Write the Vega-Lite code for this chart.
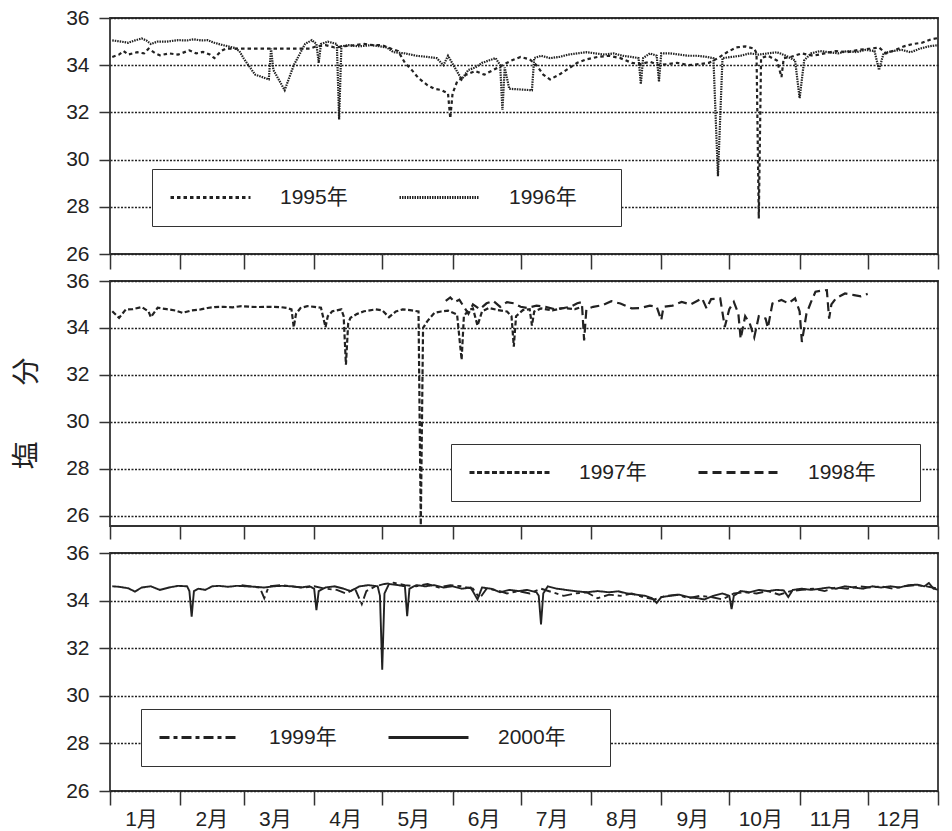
{
"$schema": "https://vega.github.io/schema/vega-lite/v6.json",
"background": "white",
"padding": {"left": 12, "top": 6, "right": 5, "bottom": 5},
"bounds": "flush",
"spacing": 27,
"datasets": {
"p1": [
{"year":"1995年","day":1,"v":34.35},{"year":"1995年","day":4,"v":34.45},{"year":"1995年","day":6,"v":34.6},{"year":"1995年","day":8,"v":34.45},{"year":"1995年","day":12,"v":34.55},{"year":"1995年","day":15,"v":34.5},{"year":"1995年","day":17,"v":34.7},{"year":"1995年","day":20,"v":34.5},{"year":"1995年","day":22,"v":34.42},{"year":"1995年","day":26,"v":34.5},{"year":"1995年","day":30,"v":34.45},{"year":"1995年","day":35,"v":34.63},{"year":"1995年","day":38,"v":34.5},{"year":"1995年","day":41,"v":34.56},{"year":"1995年","day":44,"v":34.45},{"year":"1995年","day":46,"v":34.3},{"year":"1995年","day":49,"v":34.6},{"year":"1995年","day":51,"v":34.7},{"year":"1995年","day":55,"v":34.7},{"year":"1995年","day":88,"v":34.7},{"year":"1995年","day":91,"v":34.8},{"year":"1995年","day":95,"v":34.85},{"year":"1995年","day":99,"v":34.75},{"year":"1995年","day":103,"v":34.8},{"year":"1995年","day":108,"v":34.85},{"year":"1995年","day":112,"v":34.9},{"year":"1995年","day":116,"v":34.85},{"year":"1995年","day":120,"v":34.85},{"year":"1995年","day":124,"v":34.7},{"year":"1995年","day":127,"v":34.6},{"year":"1995年","day":130,"v":34.1},{"year":"1995年","day":133,"v":33.8},{"year":"1995年","day":136,"v":33.45},{"year":"1995年","day":140,"v":33.15},{"year":"1995年","day":143,"v":33.0},{"year":"1995年","day":146,"v":32.95},{"year":"1995年","day":149,"v":32.8},{"year":"1995年","day":150,"v":31.75},{"year":"1995年","day":151,"v":32.8},{"year":"1995年","day":153,"v":33.3},{"year":"1995年","day":157,"v":33.6},{"year":"1995年","day":161,"v":33.75},{"year":"1995年","day":165,"v":33.6},{"year":"1995年","day":169,"v":33.8},{"year":"1995年","day":173,"v":34.0},{"year":"1995年","day":177,"v":34.2},{"year":"1995年","day":181,"v":34.35},{"year":"1995年","day":185,"v":34.25},{"year":"1995年","day":188,"v":34.0},{"year":"1995年","day":191,"v":33.6},{"year":"1995年","day":194,"v":33.4},{"year":"1995年","day":198,"v":33.6},{"year":"1995年","day":202,"v":33.85},{"year":"1995年","day":206,"v":34.1},{"year":"1995年","day":210,"v":34.25},{"year":"1995年","day":215,"v":34.35},{"year":"1995年","day":220,"v":34.4},{"year":"1995年","day":225,"v":34.3},{"year":"1995年","day":230,"v":34.1},{"year":"1995年","day":234,"v":34.05},{"year":"1995年","day":238,"v":34.15},{"year":"1995年","day":242,"v":34.0},{"year":"1995年","day":246,"v":34.05},{"year":"1995年","day":250,"v":34.1},{"year":"1995年","day":255,"v":34.0},{"year":"1995年","day":260,"v":34.05},{"year":"1995年","day":264,"v":34.1},{"year":"1995年","day":268,"v":34.3},{"year":"1995年","day":272,"v":34.55},{"year":"1995年","day":276,"v":34.75},{"year":"1995年","day":280,"v":34.8},{"year":"1995年","day":284,"v":34.7},{"year":"1995年","day":285,"v":34.5},{"year":"1995年","day":286,"v":27.5},{"year":"1995年","day":287,"v":34.3},{"year":"1995年","day":290,"v":34.4},{"year":"1995年","day":294,"v":34.2},{"year":"1995年","day":296,"v":33.5},{"year":"1995年","day":297,"v":34.3},{"year":"1995年","day":300,"v":34.35},{"year":"1995年","day":305,"v":34.5},{"year":"1995年","day":310,"v":34.4},{"year":"1995年","day":315,"v":34.5},{"year":"1995年","day":320,"v":34.6},{"year":"1995年","day":325,"v":34.55},{"year":"1995年","day":330,"v":34.65},{"year":"1995年","day":335,"v":34.7},{"year":"1995年","day":339,"v":34.75},{"year":"1995年","day":342,"v":34.5},{"year":"1995年","day":345,"v":34.6},{"year":"1995年","day":350,"v":34.8},{"year":"1995年","day":354,"v":34.9},{"year":"1995年","day":358,"v":34.95},{"year":"1995年","day":362,"v":35.1},{"year":"1995年","day":365,"v":35.15},
{"year":"1996年","day":1,"v":35.05},{"year":"1996年","day":5,"v":35.0},{"year":"1996年","day":8,"v":34.95},{"year":"1996年","day":11,"v":35.05},{"year":"1996年","day":14,"v":35.13},{"year":"1996年","day":16,"v":35.05},{"year":"1996年","day":18,"v":34.9},{"year":"1996年","day":21,"v":35.0},{"year":"1996年","day":25,"v":35.0},{"year":"1996年","day":30,"v":35.06},{"year":"1996年","day":34,"v":35.05},{"year":"1996年","day":37,"v":35.1},{"year":"1996年","day":40,"v":35.05},{"year":"1996年","day":43,"v":35.06},{"year":"1996年","day":46,"v":34.95},{"year":"1996年","day":49,"v":34.87},{"year":"1996年","day":52,"v":34.8},{"year":"1996年","day":55,"v":34.73},{"year":"1996年","day":57,"v":34.6},{"year":"1996年","day":59,"v":34.28},{"year":"1996年","day":61,"v":34.0},{"year":"1996年","day":64,"v":33.6},{"year":"1996年","day":67,"v":33.5},{"year":"1996年","day":70,"v":33.4},{"year":"1996年","day":71,"v":34.7},{"year":"1996年","day":72,"v":33.8},{"year":"1996年","day":77,"v":32.94},{"year":"1996年","day":81,"v":34.0},{"year":"1996年","day":86,"v":34.9},{"year":"1996年","day":89,"v":35.06},{"year":"1996年","day":91,"v":34.9},{"year":"1996年","day":92,"v":34.1},{"year":"1996年","day":93,"v":34.9},{"year":"1996年","day":96,"v":35.0},{"year":"1996年","day":100,"v":34.9},{"year":"1996年","day":101,"v":31.7},{"year":"1996年","day":102,"v":34.8},{"year":"1996年","day":105,"v":34.85},{"year":"1996年","day":110,"v":34.8},{"year":"1996年","day":115,"v":34.85},{"year":"1996年","day":119,"v":34.8},{"year":"1996年","day":122,"v":34.75},{"year":"1996年","day":125,"v":34.55},{"year":"1996年","day":130,"v":34.5},{"year":"1996年","day":135,"v":34.4},{"year":"1996年","day":140,"v":34.35},{"year":"1996年","day":144,"v":34.3},{"year":"1996年","day":147,"v":34.0},{"year":"1996年","day":149,"v":34.4},{"year":"1996年","day":152,"v":33.9},{"year":"1996年","day":155,"v":33.4},{"year":"1996年","day":158,"v":33.8},{"year":"1996年","day":161,"v":33.9},{"year":"1996年","day":164,"v":34.1},{"year":"1996年","day":167,"v":34.2},{"year":"1996年","day":170,"v":34.3},{"year":"1996年","day":172,"v":34.0},{"year":"1996年","day":173,"v":32.1},{"year":"1996年","day":174,"v":33.9},{"year":"1996年","day":176,"v":33.0},{"year":"1996年","day":186,"v":32.94},{"year":"1996年","day":187,"v":34.3},{"year":"1996年","day":190,"v":34.4},{"year":"1996年","day":194,"v":34.3},{"year":"1996年","day":198,"v":34.35},{"year":"1996年","day":202,"v":34.45},{"year":"1996年","day":206,"v":34.5},{"year":"1996年","day":210,"v":34.55},{"year":"1996年","day":214,"v":34.5},{"year":"1996年","day":218,"v":34.45},{"year":"1996年","day":222,"v":34.5},{"year":"1996年","day":226,"v":34.4},{"year":"1996年","day":230,"v":34.35},{"year":"1996年","day":233,"v":34.3},{"year":"1996年","day":234,"v":33.2},{"year":"1996年","day":235,"v":34.3},{"year":"1996年","day":238,"v":34.5},{"year":"1996年","day":241,"v":34.4},{"year":"1996年","day":242,"v":33.3},{"year":"1996年","day":243,"v":34.5},{"year":"1996年","day":247,"v":34.5},{"year":"1996年","day":251,"v":34.45},{"year":"1996年","day":255,"v":34.4},{"year":"1996年","day":259,"v":34.4},{"year":"1996年","day":263,"v":34.35},{"year":"1996年","day":266,"v":34.3},{"year":"1996年","day":268,"v":29.3},{"year":"1996年","day":270,"v":34.3},{"year":"1996年","day":274,"v":34.35},{"year":"1996年","day":278,"v":34.4},{"year":"1996年","day":282,"v":34.5},{"year":"1996年","day":286,"v":34.45},{"year":"1996年","day":290,"v":34.5},{"year":"1996年","day":294,"v":34.55},{"year":"1996年","day":298,"v":34.4},{"year":"1996年","day":302,"v":34.2},{"year":"1996年","day":304,"v":32.6},{"year":"1996年","day":306,"v":34.2},{"year":"1996年","day":309,"v":34.5},{"year":"1996年","day":313,"v":34.6},{"year":"1996年","day":317,"v":34.55},{"year":"1996年","day":321,"v":34.5},{"year":"1996年","day":325,"v":34.6},{"year":"1996年","day":329,"v":34.55},{"year":"1996年","day":333,"v":34.65},{"year":"1996年","day":337,"v":34.6},{"year":"1996年","day":339,"v":33.8},{"year":"1996年","day":341,"v":34.5},{"year":"1996年","day":345,"v":34.6},{"year":"1996年","day":349,"v":34.65},{"year":"1996年","day":353,"v":34.55},{"year":"1996年","day":357,"v":34.7},{"year":"1996年","day":361,"v":34.8},{"year":"1996年","day":365,"v":34.85}
],
"p2": [
{"year":"1997年","day":1,"v":34.71},{"year":"1997年","day":4,"v":34.43},{"year":"1997年","day":7,"v":34.79},{"year":"1997年","day":10,"v":34.8},{"year":"1997年","day":14,"v":34.89},{"year":"1997年","day":17,"v":34.7},{"year":"1997年","day":18,"v":34.46},{"year":"1997年","day":21,"v":34.86},{"year":"1997年","day":25,"v":34.8},{"year":"1997年","day":29,"v":34.74},{"year":"1997年","day":32,"v":34.64},{"year":"1997年","day":36,"v":34.75},{"year":"1997年","day":40,"v":34.79},{"year":"1997年","day":43,"v":34.85},{"year":"1997年","day":46,"v":34.89},{"year":"1997年","day":50,"v":34.9},{"year":"1997年","day":54,"v":34.88},{"year":"1997年","day":58,"v":34.93},{"year":"1997年","day":62,"v":34.9},{"year":"1997年","day":65,"v":34.89},{"year":"1997年","day":70,"v":34.9},{"year":"1997年","day":75,"v":34.89},{"year":"1997年","day":78,"v":34.85},{"year":"1997年","day":80,"v":34.79},{"year":"1997年","day":81,"v":34.03},{"year":"1997年","day":82,"v":34.6},{"year":"1997年","day":84,"v":34.85},{"year":"1997年","day":87,"v":34.93},{"year":"1997年","day":90,"v":34.9},{"year":"1997年","day":93,"v":34.86},{"year":"1997年","day":95,"v":34.03},{"year":"1997年","day":96,"v":34.5},{"year":"1997年","day":98,"v":34.71},{"year":"1997年","day":102,"v":34.79},{"year":"1997年","day":103,"v":34.5},{"year":"1997年","day":104,"v":32.43},{"year":"1997年","day":105,"v":34.2},{"year":"1997年","day":106,"v":34.43},{"year":"1997年","day":109,"v":34.6},{"year":"1997年","day":112,"v":34.71},{"year":"1997年","day":117,"v":34.79},{"year":"1997年","day":120,"v":34.75},{"year":"1997年","day":123,"v":34.46},{"year":"1997年","day":126,"v":34.7},{"year":"1997年","day":129,"v":34.79},{"year":"1997年","day":133,"v":34.75},{"year":"1997年","day":136,"v":34.7},{"year":"1997年","day":137,"v":25.6},{"year":"1997年","day":138,"v":34.0},{"year":"1997年","day":140,"v":34.3},{"year":"1997年","day":143,"v":34.64},{"year":"1997年","day":146,"v":34.7},{"year":"1997年","day":149,"v":34.74},{"year":"1997年","day":153,"v":34.57},{"year":"1997年","day":155,"v":32.64},{"year":"1997年","day":156,"v":34.5},{"year":"1997年","day":158,"v":34.75},{"year":"1997年","day":160,"v":34.83},{"year":"1997年","day":162,"v":34.1},{"year":"1997年","day":164,"v":34.7},{"year":"1997年","day":167,"v":34.85},{"year":"1997年","day":171,"v":34.76},{"year":"1997年","day":175,"v":34.7},{"year":"1997年","day":177,"v":34.5},{"year":"1997年","day":178,"v":33.2},{"year":"1997年","day":179,"v":34.5},{"year":"1997年","day":182,"v":34.76},{"year":"1997年","day":185,"v":34.8},{"year":"1997年","day":186,"v":34.1},{"year":"1997年","day":187,"v":34.7},{"year":"1997年","day":190,"v":34.83},{"year":"1997年","day":195,"v":34.75},{"year":"1997年","day":200,"v":34.85},{"year":"1997年","day":205,"v":34.8},{"year":"1997年","day":208,"v":34.9},
{"year":"1998年","day":148,"v":35.15},{"year":"1998年","day":150,"v":35.3},{"year":"1998年","day":152,"v":35.1},{"year":"1998年","day":154,"v":35.2},{"year":"1998年","day":156,"v":34.9},{"year":"1998年","day":158,"v":34.6},{"year":"1998年","day":160,"v":35.0},{"year":"1998年","day":163,"v":34.8},{"year":"1998年","day":166,"v":35.05},{"year":"1998年","day":169,"v":35.15},{"year":"1998年","day":172,"v":34.9},{"year":"1998年","day":175,"v":35.1},{"year":"1998年","day":178,"v":35.05},{"year":"1998年","day":181,"v":34.9},{"year":"1998年","day":184,"v":34.85},{"year":"1998年","day":188,"v":34.95},{"year":"1998年","day":192,"v":34.9},{"year":"1998年","day":196,"v":34.8},{"year":"1998年","day":200,"v":34.85},{"year":"1998年","day":203,"v":34.9},{"year":"1998年","day":206,"v":35.05},{"year":"1998年","day":208,"v":35.1},{"year":"1998年","day":209,"v":33.47},{"year":"1998年","day":210,"v":34.8},{"year":"1998年","day":213,"v":34.9},{"year":"1998年","day":217,"v":34.97},{"year":"1998年","day":221,"v":35.14},{"year":"1998年","day":225,"v":35.04},{"year":"1998年","day":230,"v":34.83},{"year":"1998年","day":234,"v":34.85},{"year":"1998年","day":238,"v":34.95},{"year":"1998年","day":241,"v":34.9},{"year":"1998年","day":243,"v":34.33},{"year":"1998年","day":244,"v":34.9},{"year":"1998年","day":248,"v":34.95},{"year":"1998年","day":252,"v":35.11},{"year":"1998年","day":256,"v":35.0},{"year":"1998年","day":261,"v":35.26},{"year":"1998年","day":263,"v":34.83},{"year":"1998年","day":265,"v":35.23},{"year":"1998年","day":269,"v":35.26},{"year":"1998年","day":271,"v":34.04},{"year":"1998年","day":273,"v":34.8},{"year":"1998年","day":275,"v":35.11},{"year":"1998年","day":277,"v":34.6},{"year":"1998年","day":278,"v":33.54},{"year":"1998年","day":280,"v":34.5},{"year":"1998年","day":282,"v":34.2},{"year":"1998年","day":284,"v":33.6},{"year":"1998年","day":286,"v":34.5},{"year":"1998年","day":289,"v":34.4},{"year":"1998年","day":290,"v":34.0},{"year":"1998年","day":292,"v":35.04},{"year":"1998年","day":296,"v":35.19},{"year":"1998年","day":299,"v":35.05},{"year":"1998年","day":302,"v":35.26},{"year":"1998年","day":304,"v":34.7},{"year":"1998年","day":305,"v":33.4},{"year":"1998年","day":307,"v":34.6},{"year":"1998年","day":309,"v":35.1},{"year":"1998年","day":311,"v":35.54},{"year":"1998年","day":314,"v":35.6},{"year":"1998年","day":316,"v":35.61},{"year":"1998年","day":317,"v":34.4},{"year":"1998年","day":318,"v":35.0},{"year":"1998年","day":320,"v":35.26},{"year":"1998年","day":324,"v":35.47},{"year":"1998年","day":328,"v":35.4},{"year":"1998年","day":331,"v":35.35},{"year":"1998年","day":334,"v":35.45}
],
"p3": [
{"year":"1999年","day":58,"v":34.65},{"year":"1999年","day":62,"v":34.6},{"year":"1999年","day":66,"v":34.55},{"year":"1999年","day":68,"v":34.1},{"year":"1999年","day":70,"v":34.6},{"year":"1999年","day":75,"v":34.65},{"year":"1999年","day":80,"v":34.6},{"year":"1999年","day":85,"v":34.55},{"year":"1999年","day":90,"v":34.6},{"year":"1999年","day":95,"v":34.5},{"year":"1999年","day":100,"v":34.45},{"year":"1999年","day":104,"v":34.3},{"year":"1999年","day":108,"v":34.5},{"year":"1999年","day":111,"v":33.85},{"year":"1999年","day":113,"v":34.4},{"year":"1999年","day":117,"v":34.6},{"year":"1999年","day":121,"v":34.7},{"year":"1999年","day":125,"v":34.75},{"year":"1999年","day":130,"v":34.65},{"year":"1999年","day":135,"v":34.6},{"year":"1999年","day":140,"v":34.7},{"year":"1999年","day":145,"v":34.55},{"year":"1999年","day":150,"v":34.65},{"year":"1999年","day":155,"v":34.6},{"year":"1999年","day":160,"v":34.5},{"year":"1999年","day":163,"v":34.1},{"year":"1999年","day":166,"v":34.5},{"year":"1999年","day":170,"v":34.45},{"year":"1999年","day":175,"v":34.3},{"year":"1999年","day":180,"v":34.4},{"year":"1999年","day":185,"v":34.3},{"year":"1999年","day":190,"v":34.5},{"year":"1999年","day":195,"v":34.35},{"year":"1999年","day":200,"v":34.2},{"year":"1999年","day":205,"v":34.3},{"year":"1999年","day":210,"v":34.35},{"year":"1999年","day":215,"v":34.1},{"year":"1999年","day":220,"v":34.25},{"year":"1999年","day":225,"v":34.2},{"year":"1999年","day":230,"v":34.3},{"year":"1999年","day":235,"v":34.15},{"year":"1999年","day":240,"v":34.05},{"year":"1999年","day":245,"v":34.2},{"year":"1999年","day":250,"v":34.25},{"year":"1999年","day":255,"v":34.1},{"year":"1999年","day":260,"v":34.2},{"year":"1999年","day":265,"v":34.15},{"year":"1999年","day":270,"v":34.05},{"year":"1999年","day":275,"v":34.3},{"year":"1999年","day":280,"v":34.35},{"year":"1999年","day":285,"v":34.3},{"year":"1999年","day":290,"v":34.4},{"year":"1999年","day":295,"v":34.25},{"year":"1999年","day":300,"v":34.4},{"year":"1999年","day":305,"v":34.45},{"year":"1999年","day":310,"v":34.5},{"year":"1999年","day":315,"v":34.4},{"year":"1999年","day":320,"v":34.55},{"year":"1999年","day":325,"v":34.5},{"year":"1999年","day":330,"v":34.6},{"year":"1999年","day":335,"v":34.55},{"year":"1999年","day":340,"v":34.6},{"year":"1999年","day":345,"v":34.5},{"year":"1999年","day":350,"v":34.6},{"year":"1999年","day":355,"v":34.65},{"year":"1999年","day":360,"v":34.6},{"year":"1999年","day":365,"v":34.5},
{"year":"2000年","day":1,"v":34.6},{"year":"2000年","day":4,"v":34.58},{"year":"2000年","day":8,"v":34.52},{"year":"2000年","day":11,"v":34.38},{"year":"2000年","day":14,"v":34.55},{"year":"2000年","day":18,"v":34.6},{"year":"2000年","day":22,"v":34.45},{"year":"2000年","day":26,"v":34.55},{"year":"2000年","day":30,"v":34.62},{"year":"2000年","day":34,"v":34.6},{"year":"2000年","day":35,"v":34.4},{"year":"2000年","day":36,"v":33.32},{"year":"2000年","day":37,"v":34.4},{"year":"2000年","day":39,"v":34.5},{"year":"2000年","day":42,"v":34.45},{"year":"2000年","day":45,"v":34.6},{"year":"2000年","day":48,"v":34.62},{"year":"2000年","day":52,"v":34.58},{"year":"2000年","day":56,"v":34.62},{"year":"2000年","day":60,"v":34.6},{"year":"2000年","day":64,"v":34.58},{"year":"2000年","day":68,"v":34.55},{"year":"2000年","day":72,"v":34.6},{"year":"2000年","day":76,"v":34.62},{"year":"2000年","day":80,"v":34.6},{"year":"2000年","day":84,"v":34.55},{"year":"2000年","day":88,"v":34.6},{"year":"2000年","day":90,"v":34.5},{"year":"2000年","day":91,"v":33.6},{"year":"2000年","day":92,"v":34.4},{"year":"2000年","day":95,"v":34.55},{"year":"2000年","day":99,"v":34.6},{"year":"2000年","day":103,"v":34.5},{"year":"2000年","day":106,"v":34.4},{"year":"2000年","day":110,"v":34.6},{"year":"2000年","day":114,"v":34.65},{"year":"2000年","day":118,"v":34.6},{"year":"2000年","day":119,"v":34.2},{"year":"2000年","day":120,"v":31.1},{"year":"2000年","day":121,"v":34.3},{"year":"2000年","day":123,"v":34.7},{"year":"2000年","day":127,"v":34.65},{"year":"2000年","day":130,"v":34.6},{"year":"2000年","day":131,"v":33.35},{"year":"2000年","day":132,"v":34.5},{"year":"2000年","day":135,"v":34.65},{"year":"2000年","day":139,"v":34.6},{"year":"2000年","day":143,"v":34.65},{"year":"2000年","day":147,"v":34.55},{"year":"2000年","day":151,"v":34.6},{"year":"2000年","day":155,"v":34.5},{"year":"2000年","day":159,"v":34.55},{"year":"2000年","day":162,"v":34.05},{"year":"2000年","day":164,"v":34.55},{"year":"2000年","day":168,"v":34.5},{"year":"2000年","day":172,"v":34.35},{"year":"2000年","day":176,"v":34.45},{"year":"2000年","day":180,"v":34.4},{"year":"2000年","day":184,"v":34.45},{"year":"2000年","day":188,"v":34.35},{"year":"2000年","day":189,"v":34.2},{"year":"2000年","day":190,"v":33.0},{"year":"2000年","day":191,"v":34.3},{"year":"2000年","day":193,"v":34.6},{"year":"2000年","day":197,"v":34.5},{"year":"2000年","day":201,"v":34.45},{"year":"2000年","day":205,"v":34.4},{"year":"2000年","day":210,"v":34.35},{"year":"2000年","day":215,"v":34.4},{"year":"2000年","day":220,"v":34.35},{"year":"2000年","day":224,"v":34.39},{"year":"2000年","day":228,"v":34.3},{"year":"2000年","day":232,"v":34.25},{"year":"2000年","day":236,"v":34.2},{"year":"2000年","day":239,"v":34.1},{"year":"2000年","day":241,"v":33.9},{"year":"2000年","day":243,"v":34.15},{"year":"2000年","day":247,"v":34.2},{"year":"2000年","day":251,"v":34.25},{"year":"2000年","day":255,"v":34.15},{"year":"2000年","day":259,"v":34.1},{"year":"2000年","day":262,"v":34.05},{"year":"2000年","day":266,"v":34.2},{"year":"2000年","day":270,"v":34.3},{"year":"2000年","day":273,"v":34.2},{"year":"2000年","day":274,"v":33.64},{"year":"2000年","day":275,"v":34.2},{"year":"2000年","day":278,"v":34.4},{"year":"2000年","day":282,"v":34.35},{"year":"2000年","day":286,"v":34.45},{"year":"2000年","day":290,"v":34.4},{"year":"2000年","day":294,"v":34.45},{"year":"2000年","day":297,"v":34.43},{"year":"2000年","day":299,"v":34.15},{"year":"2000年","day":301,"v":34.45},{"year":"2000年","day":305,"v":34.5},{"year":"2000年","day":309,"v":34.45},{"year":"2000年","day":313,"v":34.5},{"year":"2000年","day":317,"v":34.55},{"year":"2000年","day":320,"v":34.5},{"year":"2000年","day":324,"v":34.6},{"year":"2000年","day":328,"v":34.55},{"year":"2000年","day":332,"v":34.5},{"year":"2000年","day":336,"v":34.6},{"year":"2000年","day":340,"v":34.55},{"year":"2000年","day":344,"v":34.6},{"year":"2000年","day":348,"v":34.55},{"year":"2000年","day":352,"v":34.65},{"year":"2000年","day":356,"v":34.67},{"year":"2000年","day":359,"v":34.6},{"year":"2000年","day":361,"v":34.74},{"year":"2000年","day":363,"v":34.5},{"year":"2000年","day":365,"v":34.46}
]
},
"vconcat": [
{
"width": 828, "height": 236,
"data": {"name": "p1"},
"mark": {"type": "line", "color": "#222", "strokeWidth": 2.2},
"encoding": {
"x": {"field": "day", "type": "quantitative", "scale": {"domain": [0, 365], "nice": false, "zero": false},
"axis": {"values": [0,31,59,90,120,151,181,212,243,273,304,334,365], "labels": false, "tickSize": 15, "grid": false, "title": null}},
"y": {"field": "v", "type": "quantitative", "scale": {"domain": [26, 36], "nice": false, "zero": false},
"axis": {"values": [26,28,30,32,34,36], "title": null}},
"strokeDash": {"field": "year", "type": "nominal",
"scale": {"domain": ["1995年", "1996年"], "range": [[3.5, 3], [1.5, 1]]},
"legend": {"legendX": 42, "legendY": 151, "labelExpr": "datum.label == '1996年' ? datum.label + '\u3000\u00a0\u200b' : datum.label"}}
}
},
{
"width": 828, "height": 245,
"data": {"name": "p2"},
"mark": {"type": "line", "color": "#222", "strokeWidth": 2.2},
"encoding": {
"x": {"field": "day", "type": "quantitative", "scale": {"domain": [0, 365], "nice": false, "zero": false},
"axis": {"values": [0,31,59,90,120,151,181,212,243,273,304,334,365], "labels": false, "tickSize": 13, "grid": false, "title": null}},
"y": {"field": "v", "type": "quantitative", "scale": {"domain": [25.56, 36], "nice": false, "zero": false},
"axis": {"values": [26,28,30,32,34,36], "title": "塩　　分", "titleFont": "Noto Sans CJK JP", "titleFontSize": 28, "titleFontWeight": "normal", "titleColor": "#222", "titlePadding": 24, "titleY": 132}},
"strokeDash": {"field": "year", "type": "nominal",
"scale": {"domain": ["1997年", "1998年"], "range": [[5, 2.5], [9, 5]]},
"legend": {"legendX": 341, "legendY": 163, "labelExpr": "datum.label == '1998年' ? datum.label + '\u3000\u00a0\u200b' : datum.label"}}
}
},
{
"width": 828, "height": 238,
"data": {"name": "p3"},
"mark": {"type": "line", "color": "#222", "strokeWidth": 1.9},
"encoding": {
"x": {"field": "day", "type": "quantitative", "scale": {"domain": [0, 365], "nice": false, "zero": false},
"axis": {"values": [0,31,59,90,120,151,181,212,243,273,304,334,365], "tickSize": 14, "grid": false, "title": null,
"labelExpr": "datum.value >= 365 ? '' : (indexof([0,31,59,90,120,151,181,212,243,273,304,334], datum.value) + 1) + '月'",
"labelOffset": 31, "labelAlign": "center", "labelFlush": false, "labelOverlap": false, "labelBound": false, "labelPadding": 3, "labelBaseline": "top"}},
"y": {"field": "v", "type": "quantitative", "scale": {"domain": [26, 36], "nice": false, "zero": false},
"axis": {"values": [26,28,30,32,34,36], "title": null}},
"strokeDash": {"field": "year", "type": "nominal",
"scale": {"domain": ["1999年", "2000年"], "range": [[10, 4, 4, 4], [1, 0]]},
"legend": {"legendX": 31, "legendY": 156, "labelExpr": "datum.label == '2000年' ? datum.label + '\u3000\u00a0\u200b' : datum.label"}}
}
}
],
"resolve": {"scale": {"strokeDash": "independent"}, "legend": {"strokeDash": "independent"}},
"config": {
"font": "Liberation Sans, Noto Sans CJK JP",
"view": {"stroke": "#333", "strokeWidth": 1.8},
"axis": {"labelFont": "Liberation Sans, Noto Sans CJK JP", "labelFontSize": 21, "labelColor": "#222", "tickColor": "#333", "tickWidth": 1.5, "domain": false, "gridColor": "#222", "gridDash": [2, 1.5], "gridWidth": 1.5, "gridOpacity": 1},
"axisY": {"tickSize": 11, "labelPadding": 10, "grid": true},
"legend": {"orient": "none", "direction": "horizontal", "title": null, "labelFont": "Liberation Sans, Noto Sans CJK JP", "labelFontSize": 21, "labelColor": "#222", "symbolType": "stroke", "symbolSize": 6400, "symbolStrokeWidth": 3, "symbolStrokeColor": "#222", "labelOffset": 28, "columnPadding": 50, "padding": 17, "clipHeight": 23, "strokeColor": "#333", "fillColor": "white"}
}
}
